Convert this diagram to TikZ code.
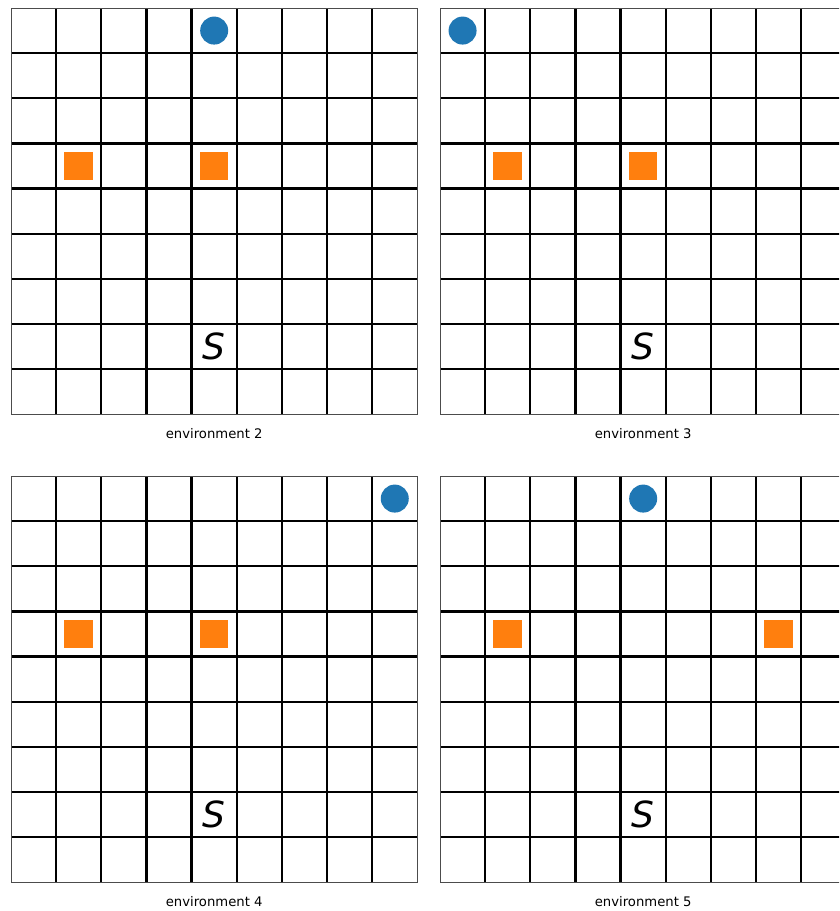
\documentclass[tikz,border=0pt]{standalone}
\usepackage{fontspec}
\setmainfont{DejaVu Sans}
\usetikzlibrary{positioning}
\definecolor{tabblue}{HTML}{1F77B4}
\definecolor{taborange}{HTML}{FF7F0E}

\begin{document}
\begin{tikzpicture}[
  x=1pt, y=-1pt,
  gline/.style={line width=2.3pt, black},
  gborder/.style={line width=1pt, black!70},
  goal/.style={circle, fill=tabblue, minimum size=28pt, inner sep=0pt},
  obst/.style={rectangle, fill=taborange, minimum size=28.5pt, inner sep=0pt},
  startmark/.style={inner sep=0pt, font=\fontsize{36}{36}\selectfont\itshape},
  envcap/.style={inner sep=0pt, font=\fontsize{13.2}{15}\selectfont}
]
\useasboundingbox (0,0) rectangle (839,911);
\clip (0,0) rectangle (839,911);
\fill[white] (0,0) rectangle (839,911);

% one grid per environment: origin / number / goal column / second obstacle column
\foreach \gx/\gy/\num/\cx/\qx in {11/8/2/4/4, 440/8/3/0/4, 11/476/4/8/4, 440/476/5/4/7} {
  \begin{scope}[shift={(\gx,\gy)}]
    \foreach \i in {1,...,8} {
      \draw[gline] (\i*45.15,0) -- (\i*45.15,406.35);
      \draw[gline] (0,\i*45.15) -- (406.35,\i*45.15);
    }
    \draw[gborder] (0,0) rectangle (406.35,406.35);
    \node[goal] (goal\num) at ({(\cx+0.5)*45.15},{0.5*45.15}) {};
    \node[obst] (obsa\num) at ({1.5*45.15},{3.5*45.15}) {};
    \node[obst] (obsb\num) at ({(\qx+0.5)*45.15},{3.5*45.15}) {};
    \node[startmark] (start\num) at ({4.5*45.15},{7.5*45.15}) {S};
    \node[envcap] (cap\num) at (203.2,426) {environment \num};
  \end{scope}
}
\end{tikzpicture}
\end{document}
